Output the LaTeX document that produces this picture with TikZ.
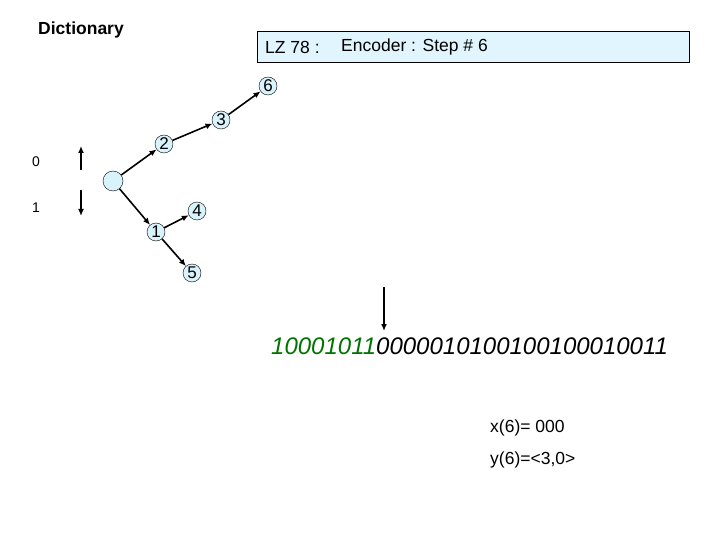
\documentclass[tikz,border=0pt]{standalone}
\usepackage{fontspec}
\setmainfont{Liberation Sans}
\usetikzlibrary{arrows.meta}
\begin{document}
\begin{tikzpicture}[x=1pt,y=-1pt,
  nd/.style={circle,draw=black,fill=cyan!15,inner sep=0pt,minimum size=18pt,font=\fontsize{17}{17}\selectfont},
  arr/.style={-{Latex[length=7pt,width=6pt]},line width=1.6pt},
  txt/.style={inner sep=0pt,anchor=west}]
\useasboundingbox (0,0) rectangle (720,540);
\node[txt,font=\bfseries\fontsize{17.5}{17}\selectfont] (dict) at (38,30) {Dictionary};
\node[draw=black,fill=cyan!12,minimum width=432pt,minimum height=31pt,anchor=north west,inner sep=0pt] (box) at (257,31) {};
\node[txt,font=\fontsize{17.5}{17}\selectfont] (lz) at (265,47) {LZ 78 :};
\node[txt,font=\fontsize{17.5}{17}\selectfont] (enc) at (341,47) {Encoder : Step \# 6};
\node[nd,minimum size=20pt] (r) at (113,181) {};
\node[nd] (n2) at (164,144) {2};
\node[nd] (n3) at (221,120) {3};
\node[nd] (n6) at (268,86) {6};
\node[nd] (n1) at (156,232) {1};
\node[nd] (n4) at (197,211) {4};
\node[nd] (n5) at (192,273) {5};
\draw[arr] (r) -- (n2);
\draw[arr] (n2) -- (n3);
\draw[arr] (n3) -- (n6);
\draw[arr] (r) -- (n1);
\draw[arr] (n1) -- (n4);
\draw[arr] (n1) -- (n5);
\coordinate (u0) at (81,170); \coordinate (u1) at (81,146);
\coordinate (d0) at (81,190); \coordinate (d1) at (81,216);
\draw[arr] (u0) -- (u1);
\draw[arr] (d0) -- (d1);
\node[font=\fontsize{14}{14}\selectfont] (l0) at (36,162) {0};
\node[font=\fontsize{14}{14}\selectfont] (l1) at (36,208) {1};
\coordinate (a0) at (384,287); \coordinate (a1) at (384,331);
\draw[arr] (a0) -- (a1);
\node[txt,font=\itshape\fontsize{24}{24}\selectfont] (bits) at (271,346) {\textcolor{green!45!black}{10001011}0000010100100100010011};
\node[txt,font=\fontsize{17.5}{17}\selectfont] (x6) at (490,428) {x(6)= 000};
\node[txt,font=\fontsize{17.5}{17}\selectfont] (y6) at (490,460) {y(6)=<3,0>};
\end{tikzpicture}
\end{document}
